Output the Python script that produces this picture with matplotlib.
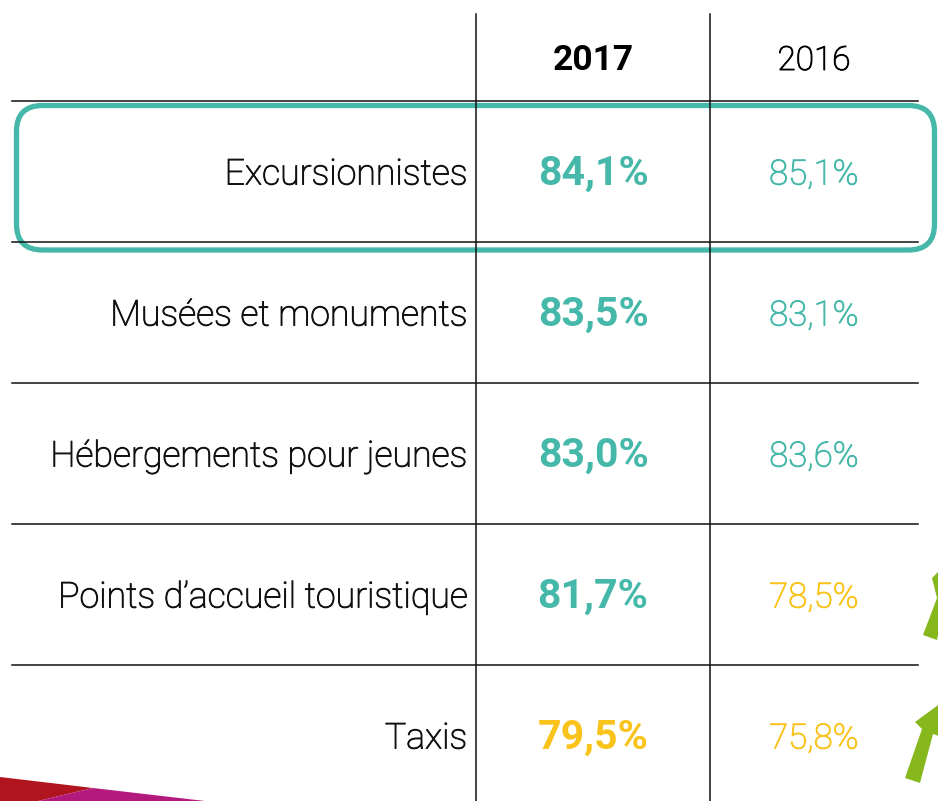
import matplotlib
matplotlib.use('Agg')
import matplotlib.pyplot as plt
import matplotlib.patheffects as pe
from matplotlib.patches import FancyBboxPatch, Polygon

plt.rcParams['font.family'] = ['Roboto', 'DejaVu Sans']

categories = ["Excursionnistes", "Musées et monuments", "Hébergements pour jeunes",
              "Points d\u2019accueil touristique", "Taxis"]
years = ["2017", "2016"]
val_2017 = [84.1, 83.5, 83.0, 81.7, 79.5]
val_2016 = [85.1, 83.1, 83.6, 78.5, 75.8]
threshold = 80.0

TEAL = '#45b8a9'
YELLOW = '#f9c31c'
GREEN = '#86b81e'


def fmt(v):
    return ('%.1f%%' % v).replace('.', ',')


def col(v):
    return TEAL if v >= threshold else YELLOW


def thick(c):
    # light weight is a bit too thin compared to the original font
    return [pe.withStroke(linewidth=0.7, foreground=c)]


fig = plt.figure(figsize=(9.38, 8.01), dpi=100)
ax = fig.add_axes([0, 0, 1, 1])
ax.set_xlim(0, 938)
ax.set_ylim(801, 0)
ax.axis('off')

row_h = 141
top = 101
header_base = 70
label_x = 467
col_x = [593, 814]

# grid
for x in (476, 710):
    ax.plot([x, x], [14, 801], color='#111111', lw=1.1)
for i in range(len(categories)):
    y = top + i * row_h
    ax.plot([12, 918], [y, y], color='#111111', lw=1.1)

# header
ax.text(col_x[0], header_base, years[0], ha='center', va='baseline', fontsize=25.5,
        fontweight='bold', color='black')
ax.text(col_x[1], header_base, years[1], ha='center', va='baseline', fontsize=24,
        fontweight='light', color='black', path_effects=thick('black'))

for i, (c, a, b) in enumerate(zip(categories, val_2017, val_2016)):
    yb = top + i * row_h + row_h / 2 + 13
    ax.text(label_x, yb, c, ha='right', va='baseline', fontsize=25.7,
            fontweight='light', color='#111111', path_effects=thick('#111111'))
    ax.text(col_x[0], yb, fmt(a), ha='center', va='baseline', fontsize=29.5,
            fontweight='bold', color=col(a))
    ax.text(col_x[1], yb, fmt(b), ha='center', va='baseline', fontsize=25,
            fontweight='light', color=col(b), path_effects=thick(col(b)))

# highlight box around first row
box = FancyBboxPatch((16.5, 105.5), 918, 144.5,
                     boxstyle='round,pad=0,rounding_size=26',
                     fill=False, ec=TEAL, lw=3.8, clip_on=False)
ax.add_patch(box)

# decorative corner shapes
ax.add_patch(Polygon([(0, 777), (93, 788), (38, 801), (0, 801)], closed=True,
                     fc='#b0141e', ec='none'))
ax.add_patch(Polygon([(93, 788), (205, 801), (38, 801)], closed=True,
                     fc='#b4197d', ec='none'))

# green arrows on the right
ax.add_patch(Polygon([(932, 578), (950, 560), (960, 600), (945, 600),
                      (937, 640), (923, 635), (937, 598)], closed=True,
                     fc=GREEN, ec='none'))
ax.add_patch(Polygon([(915, 722), (945, 700), (950, 740), (933, 734),
                      (920, 783), (905, 778), (922, 729)], closed=True,
                     fc=GREEN, ec='none'))

fig.savefig('out.png', dpi=100)
